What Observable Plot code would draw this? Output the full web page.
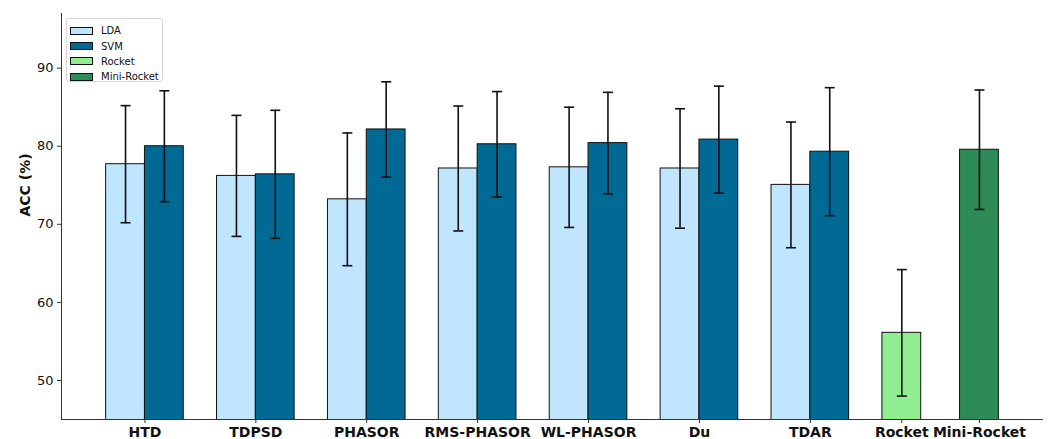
<!DOCTYPE html>
<html>
<head>
<meta charset="utf-8">
<script src="https://cdn.jsdelivr.net/npm/d3@7"></script>
<script src="https://cdn.jsdelivr.net/npm/@observablehq/plot@0.6"></script>
<style>
  body { margin: 0; background: #fff; font-family: "DejaVu Sans", sans-serif; }
  #wrap { position: relative; width: 1049px; height: 439px; }
  #legend { position: absolute; left: 66px; top: 18px; width: 97px; height: 64px;
    border: 1px solid #d6d6d6; border-radius: 3px; background: rgba(255,255,255,0.8);
    font: 10px "DejaVu Sans", sans-serif; color: #111; box-sizing: border-box; padding-top: 4px; }
  .li { display: flex; align-items: center; height: 15.4px; }
  .sw { width: 21px; height: 6px; border: 1px solid #111; margin: 0 8px 0 3px; }
</style>
</head>
<body>
<div id="wrap"><div id="legend"></div></div>
<script>
// ---- data ----
const groups = ["HTD", "TDPSD", "PHASOR", "RMS-PHASOR", "WL-PHASOR", "Du", "TDAR"];
const ldaMean = [77.7, 76.2, 73.2, 77.15, 77.3, 77.15, 75.05];
const ldaStd  = [7.5, 7.75, 8.5, 8.0, 7.7, 7.65, 8.05];
const svmMean = [80.0, 76.4, 82.15, 80.25, 80.4, 80.85, 79.3];
const svmStd  = [7.1, 8.2, 6.1, 6.75, 6.5, 6.85, 8.2];
const rocketMean = 56.1, rocketStd = 8.1;
const miniMean = 79.55, miniStd = 7.65;
const seriesNames = ["LDA", "SVM", "Rocket", "Mini-Rocket"];
const seriesColors = ["#c0e5fe", "#006994", "#90ee90", "#2e8b57"];
const yTicks = [50, 60, 70, 80, 90];

// ---- layout (matplotlib-style numeric x positions) ----
const w = 0.35;
const bars = [];
groups.forEach((g, i) => {
  bars.push({series: "LDA", x: i - w / 2, mean: ldaMean[i], std: ldaStd[i]});
  bars.push({series: "SVM", x: i + w / 2, mean: svmMean[i], std: svmStd[i]});
});
const n = groups.length;
bars.push({series: "Rocket", x: n - w / 2, mean: rocketMean, std: rocketStd});
bars.push({series: "Mini-Rocket", x: n + 1.5 * w, mean: miniMean, std: miniStd});

const tickPos = groups.map((g, i) => i).concat([n - w / 2, n + 1.5 * w]);
const tickLab = groups.concat(["Rocket", "Mini-Rocket"]);

const left = -w, right = n + 2 * w;
const xmin = left - 0.05 * (right - left);
const xmax = right + 0.05 * (right - left);
const ymin = 45, ymax = 97;
const capHalf = 0.045;

const chart = Plot.plot({
  width: 1049,
  height: 439,
  marginLeft: 61,
  marginRight: 6,
  marginTop: 13,
  marginBottom: 20,
  style: {fontFamily: "DejaVu Sans, sans-serif", background: "white", overflow: "visible"},
  x: {type: "linear", domain: [xmin, xmax]},
  y: {domain: [ymin, ymax]},
  color: {domain: seriesNames, range: seriesColors},
  marks: [
    Plot.rectY(bars, {x1: d => d.x - w / 2, x2: d => d.x + w / 2, y1: 0, y2: "mean",
      fill: "series", stroke: "#111", strokeWidth: 1, clip: true}),
    Plot.ruleX(bars, {x: "x", y1: d => d.mean - d.std, y2: d => d.mean + d.std, stroke: "#111", strokeWidth: 1.6}),
    Plot.link(bars, {x1: d => d.x - capHalf, x2: d => d.x + capHalf, y1: d => d.mean + d.std, y2: d => d.mean + d.std, stroke: "#111", strokeWidth: 1.6}),
    Plot.link(bars, {x1: d => d.x - capHalf, x2: d => d.x + capHalf, y1: d => d.mean - d.std, y2: d => d.mean - d.std, stroke: "#111", strokeWidth: 1.6}),
    Plot.ruleX([xmin], {stroke: "#333", strokeWidth: 1}),
    Plot.ruleY([ymin], {stroke: "#333", strokeWidth: 1}),
    Plot.axisY({ticks: yTicks, tickSize: 4, tickPadding: 4, fontSize: 13, label: null, stroke: "#333", color: "#111"}),
    Plot.axisX({ticks: tickPos, tickFormat: (d, i) => tickLab[i], tickSize: 4, tickPadding: 4,
      fontSize: 14, fontWeight: "bold", label: null, stroke: "#333", color: "#111"}),
    Plot.text(["ACC (%)"], {frameAnchor: "left", dx: -36, rotate: -90, fontSize: 14, fontWeight: "bold", fill: "#111"})
  ]
});
document.getElementById("wrap").prepend(chart);

const lg = document.getElementById("legend");
seriesNames.forEach((s, i) => {
  const row = document.createElement("div");
  row.className = "li";
  row.innerHTML = `<span class="sw" style="background:${seriesColors[i]}"></span><span>${s}</span>`;
  lg.appendChild(row);
});
</script>
</body>
</html>
